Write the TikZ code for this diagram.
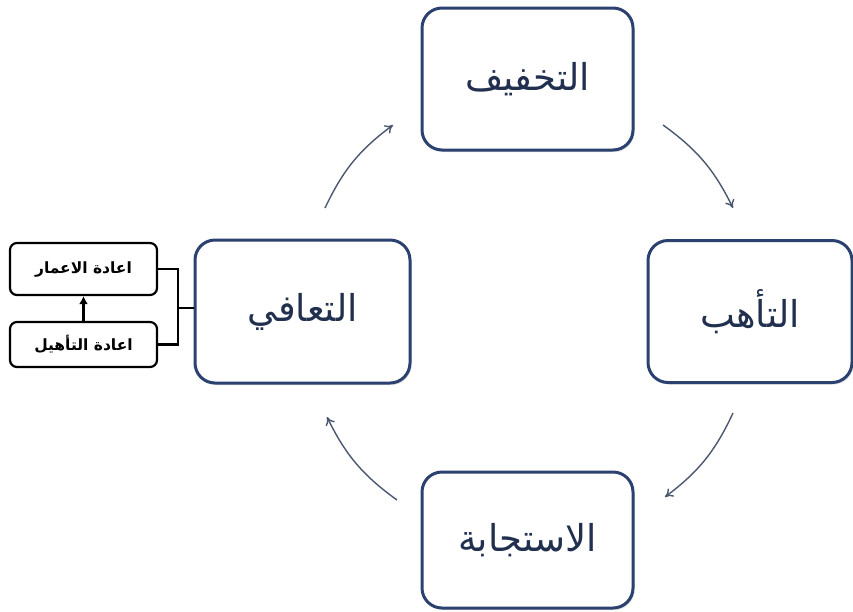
\documentclass[tikz,border=0pt]{standalone}
\usepackage{fontspec}
\newfontfamily\arabicfont[Script=Arabic]{DejaVu Sans}
\TeXXeTstate=1
\usetikzlibrary{arrows.meta,shadows}
\definecolor{boxblue}{HTML}{2B4170}
\definecolor{txtblue}{HTML}{22304F}
\definecolor{arrowgray}{HTML}{4A5870}
\begin{document}
\begin{tikzpicture}[x=1pt,y=-1pt,
  mainbox/.style={draw=boxblue, line width=3pt, rounded corners=20pt, fill=white,
    drop shadow={shadow xshift=1.5pt, shadow yshift=-2pt, opacity=0.25, fill=gray},
    font=\arabicfont\fontsize{37}{44}\selectfont, text=txtblue,
    minimum width=211pt, minimum height=142pt, inner sep=0pt},
  smallbox/.style={draw=black, line width=2.2pt, rounded corners=7pt, fill=white,
    font=\arabicfont\bfseries\fontsize{15.5}{18}\selectfont, minimum width=147pt, inner sep=0pt},
  cyc/.style={-{To[length=8pt,width=10pt]}, draw=arrowgray, line width=1.4pt},
  blk/.style={draw=black, line width=2.6pt}
]
\useasboundingbox (0,0) rectangle (853,611);
\fill[white] (0,0) rectangle (853,611);

\node[mainbox] (mit) at (527.5,79) {\beginR التخفيف\endR};
\node[mainbox, minimum width=204pt] (prep) at (750,311.5) {\beginR التأهب\endR};
\node[mainbox, minimum height=136pt] (resp) at (527.5,540) {\beginR الاستجابة\endR};
\node[mainbox, minimum width=215pt, minimum height=143pt] (rec) at (302.5,311.5) {\beginR التعافي\endR};

\node[smallbox, minimum height=52pt] (rec1) at (83.5,269) {\beginR اعادة الاعمار\endR};
\node[smallbox, minimum height=45pt] (rec2) at (83.5,344.5) {\beginR اعادة التأهيل\endR};

\coordinate (bj) at (178,308);
\draw[blk] (rec1.east) -| (bj) |- (rec2.east);
\draw[blk] (bj) -- (bj -| rec.west);
\draw[blk, -{Latex[length=8pt,width=9pt]}] (rec2.north) -- (rec1.south);

\coordinate (a1s) at (325,208); \coordinate (a1e) at (393,125);
\coordinate (a2s) at (663,125); \coordinate (a2e) at (733,208);
\coordinate (a3s) at (733,413); \coordinate (a3e) at (665,497);
\coordinate (a4s) at (397,500); \coordinate (a4e) at (327,417);
\draw[cyc] (a1s) to[bend left=14] (a1e);
\draw[cyc] (a2s) to[bend left=14] (a2e);
\draw[cyc] (a3s) to[bend left=14] (a3e);
\draw[cyc] (a4s) to[bend left=14] (a4e);
\end{tikzpicture}
\end{document}
